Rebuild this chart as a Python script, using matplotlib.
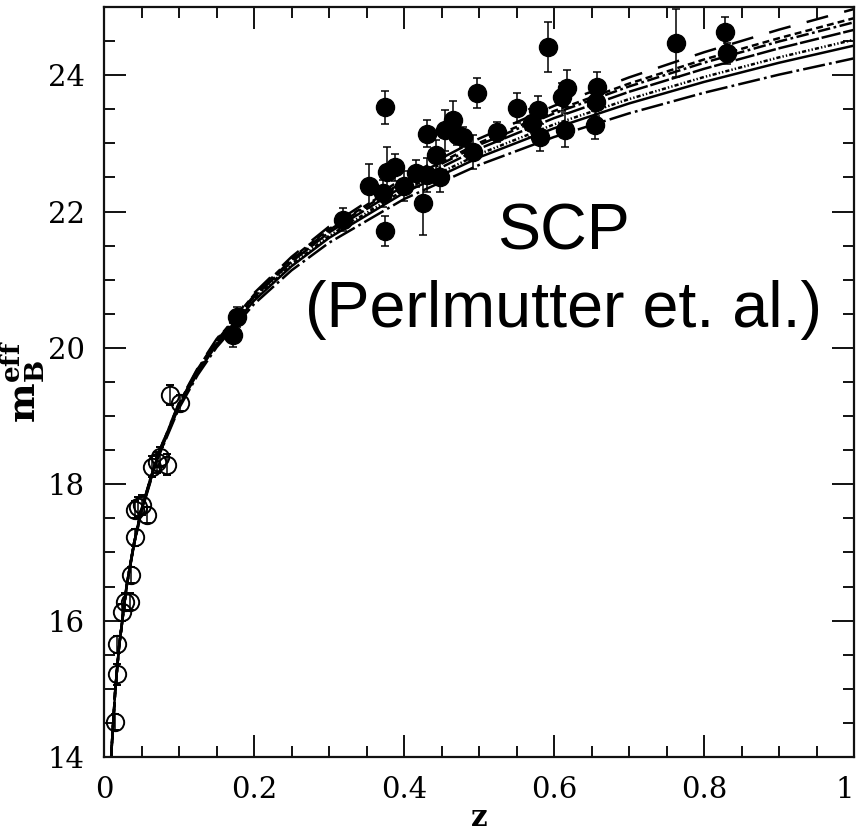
import matplotlib
matplotlib.use("Agg")
import matplotlib.pyplot as plt
from matplotlib.ticker import MultipleLocator, FixedLocator

plt.rcParams['lines.scale_dashes'] = False
plt.rcParams['mathtext.fontset'] = 'dejavuserif'

# ---------------- data ----------------
# High-redshift SCP supernovae (filled circles)
scp_z = [0.172, 0.177, 0.319, 0.353, 0.372, 0.375, 0.375, 0.377, 0.388, 0.400,
         0.416, 0.425, 0.430, 0.430, 0.442, 0.448, 0.455, 0.465, 0.470, 0.479,
         0.492, 0.497, 0.524, 0.551, 0.570, 0.579, 0.581, 0.592, 0.611, 0.615,
         0.617, 0.655, 0.656, 0.657, 0.763, 0.828, 0.830]
scp_m = [20.19, 20.45, 21.88, 22.37, 22.27, 23.53, 21.71, 22.58, 22.65, 22.37,
         22.56, 22.12, 23.14, 22.53, 22.83, 22.50, 23.19, 23.34, 23.12, 23.09,
         22.87, 23.74, 23.17, 23.52, 23.30, 23.49, 23.09, 24.41, 23.68, 23.19,
         23.81, 23.27, 23.60, 23.82, 24.47, 24.63, 24.32]
scp_err = [0.17, 0.15, 0.17, 0.32, 0.20, 0.24, 0.22, 0.37, 0.20, 0.22,
           0.20, 0.47, 0.20, 0.25, 0.22, 0.22, 0.30, 0.28, 0.15, 0.15,
           0.25, 0.22, 0.15, 0.22, 0.20, 0.20, 0.20, 0.37, 0.20, 0.25,
           0.27, 0.20, 0.20, 0.22, 0.50, 0.22, 0.15]

# Low-redshift Calan/Tololo supernovae (open circles)
ct_z = [0.0147, 0.0170, 0.0172, 0.0236, 0.0280, 0.0347, 0.0360, 0.0410, 0.0413,
        0.0453, 0.0500, 0.0570, 0.0636, 0.0700, 0.0747, 0.0836, 0.0880, 0.1010]
ct_m = [14.51, 15.21, 15.65, 16.12, 16.28, 16.28, 16.67, 17.63, 17.22,
        17.67, 17.70, 17.55, 18.26, 18.32, 18.40, 18.29, 19.31, 19.19]
ct_err = [0.12, 0.15, 0.13, 0.13, 0.12, 0.12, 0.12, 0.12, 0.12,
          0.15, 0.15, 0.12, 0.15, 0.15, 0.15, 0.15, 0.15, 0.12]

# Model curves m_B^eff(z)
curve_z = [0.009, 0.01, 0.015, 0.02, 0.03, 0.04, 0.05, 0.07, 0.1, 0.125, 0.15,
           0.2, 0.25, 0.3, 0.4, 0.5, 0.6, 0.7, 0.8, 0.9, 1.0]
m_om00 = [13.87, 14.101, 14.987, 15.617, 16.508, 17.143, 17.638, 18.390, 19.196, 19.706, 20.128,
          20.802, 21.335, 21.779, 22.496, 23.069, 23.550, 23.967, 24.336, 24.668, 24.970]
m_om02 = [13.87, 14.100, 14.985, 15.615, 16.505, 17.139, 17.633, 18.382, 19.185, 19.692, 20.111,
          20.779, 21.310, 21.743, 22.447, 23.007, 23.474, 23.876, 24.230, 24.543, 24.836]
m_om03 = [13.87, 14.099, 14.984, 15.614, 16.503, 17.137, 17.631, 18.379, 19.179, 19.685, 20.102,
          20.767, 21.292, 21.726, 22.424, 22.977, 23.438, 23.834, 24.183, 24.494, 24.776]
m_om05 = [13.87, 14.098, 14.983, 15.611, 16.500, 17.133, 17.625, 18.372, 19.168, 19.671, 20.085,
          20.745, 21.263, 21.692, 22.378, 22.921, 23.370, 23.756, 24.093, 24.394, 24.665]
m_om08 = [13.87, 14.097, 14.980, 15.608, 16.495, 17.126, 17.617, 18.361, 19.152, 19.651, 20.061,
          20.713, 21.223, 21.644, 22.315, 22.842, 23.278, 23.649, 23.973, 24.261, 24.520]
m_om10 = [13.87, 14.095, 14.979, 15.606, 16.492, 17.122, 17.612, 18.353, 19.141, 19.638, 20.045,
          20.692, 21.197, 21.613, 22.275, 22.794, 23.221, 23.585, 23.901, 24.182, 24.434]
m_om15 = [13.87, 14.093, 14.975, 15.601, 16.484, 17.111, 17.598, 18.334, 19.115, 19.605, 20.007,
          20.642, 21.137, 21.542, 22.183, 22.683, 23.093, 23.440, 23.742, 24.008, 24.247]

x_ticks = [0, 0.2, 0.4, 0.6, 0.8, 1.0]
x_ticklabels = ["0", "0.2", "0.4", "0.6", "0.8", "1"]
y_ticks = [14, 16, 18, 20, 22, 24]
y_ticklabels = ["14", "16", "18", "20", "22", "24"]

# ---------------- figure ----------------
W, H = 861, 834
fig = plt.figure(figsize=(W / 100, H / 100), dpi=100)
ax = fig.add_axes([104 / W, 1 - 757 / H, 750 / W, 750 / H])

curves = [
    (m_om00, (0, (16, 12))),
    (m_om02, (0, (5, 3))),
    (m_om03, (0, (9, 2.5, 2, 2.5))),
    (m_om05, (0, (14, 2))),
    (m_om08, (0, (3, 1.5, 1, 1.5, 1, 1.5))),
    (m_om10, '-'),
    (m_om15, (0, (16, 3, 2, 3))),
]
for vals, ls in curves:
    ax.plot(curve_z, vals, color='black', lw=1.8, linestyle=ls, zorder=2)

ax.errorbar(ct_z, ct_m, yerr=ct_err, fmt='o', ms=12.5, mfc='none', mec='black',
            mew=1.4, ecolor='black', elinewidth=1.1, capsize=3, capthick=1.1, zorder=3)
ax.errorbar(scp_z, scp_m, yerr=scp_err, fmt='o', ms=13, mfc='black', mec='black',
            ecolor='black', elinewidth=1.1, capsize=3, capthick=1.1, zorder=4)

ax.set_xlim(0, 1)
ax.set_ylim(14, 25)

ax.xaxis.set_major_locator(FixedLocator(x_ticks))
ax.xaxis.set_minor_locator(MultipleLocator(0.05))
ax.yaxis.set_major_locator(FixedLocator(y_ticks))
ax.yaxis.set_minor_locator(MultipleLocator(0.5))
ax.set_xticklabels(x_ticklabels, family='DejaVu Serif', fontsize=21)
ax.set_yticklabels(y_ticklabels, family='DejaVu Serif', fontsize=21)
ax.get_xticklabels()[-1].set_horizontalalignment('right')

ax.tick_params(which='both', direction='in', top=True, right=True, width=1.4,
               color='#111111', labelcolor='black')
ax.tick_params(which='major', length=16, pad=14)
ax.tick_params(which='minor', length=8)
for s in ax.spines.values():
    s.set_linewidth(1.6)
    s.set_color('#111111')

ax.set_xlabel('z', family='DejaVu Serif', fontweight='bold', fontsize=21, va='center')
ax.xaxis.set_label_coords(0.5, -0.081)
ax.set_ylabel(r'$\mathbf{m}_{\mathbf{B}}^{\mathbf{eff}}$', fontsize=27, rotation=90)
ax.yaxis.set_label_coords(-0.076, 0.50)

ax.text(0.613, 21.44, 'SCP', family='Liberation Sans', fontsize=46.5,
        ha='center', va='baseline', zorder=5)
ax.text(0.613, 20.31, '(Perlmutter et. al.)', family='Liberation Sans', fontsize=46.5,
        ha='center', va='baseline', zorder=5)

fig.savefig('out.png', dpi=100)
